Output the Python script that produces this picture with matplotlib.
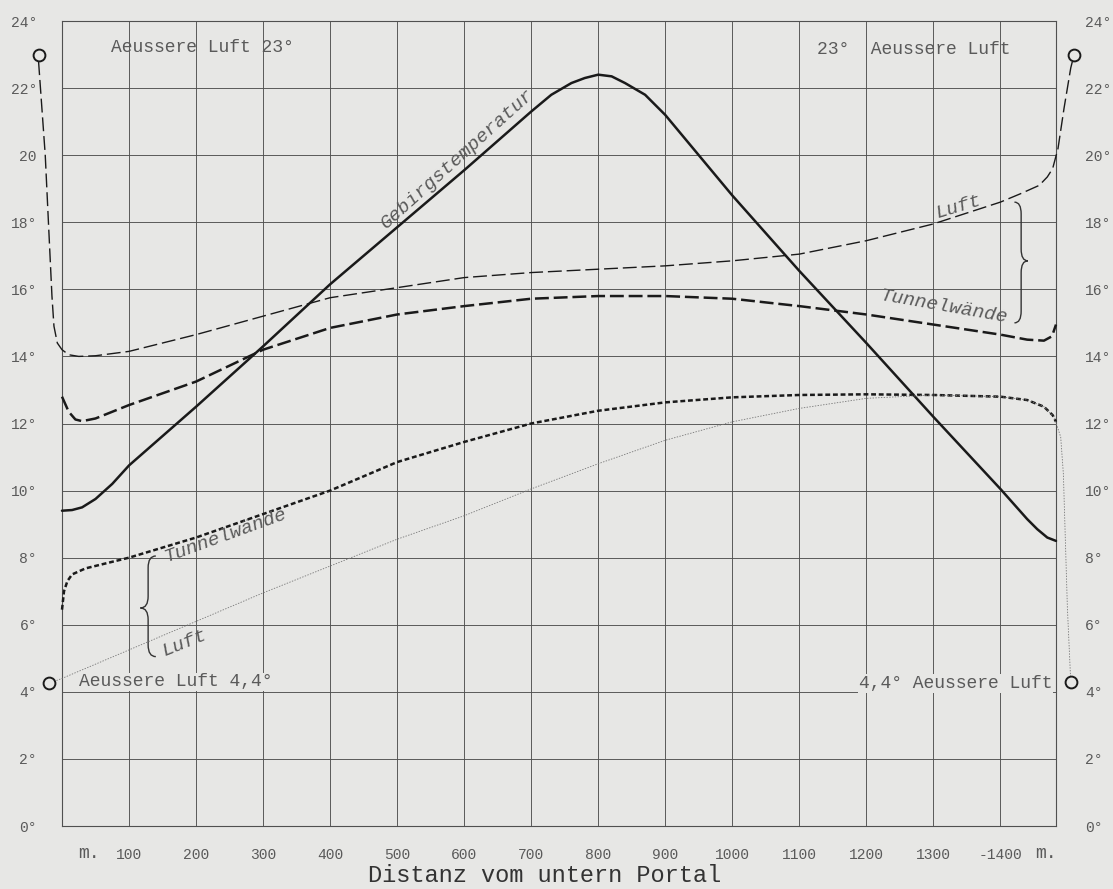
import matplotlib.pyplot as plt
from matplotlib.path import Path
from matplotlib.patches import PathPatch

plt.rcParams['lines.scale_dashes'] = False
plt.rcParams['font.family'] = ['Liberation Mono', 'DejaVu Sans Mono']

# Gebirgstemperatur (ausgezogen)
geb_x = [0, 15, 30, 50, 75, 100, 200, 300, 400, 500, 600, 700, 730, 760, 780, 800,
         820, 840, 870, 900, 1000, 1100, 1200, 1300, 1400, 1420, 1440, 1455, 1470, 1483]
geb_y = [9.4, 9.42, 9.5, 9.75, 10.2, 10.75, 12.5, 14.3, 16.15, 17.85, 19.55, 21.3, 21.8, 22.15, 22.3, 22.4,
         22.35, 22.15, 21.8, 21.2, 18.8, 16.55, 14.4, 12.2, 10.05, 9.6, 9.15, 8.85, 8.6, 8.5]

# Luft, Aeussere Luft 23 Grad (oben)
luft_o_x = [-35, -25, -15, -12, -7, 0, 10, 25, 50, 100, 200, 300, 400, 500, 600, 700, 800, 900,
            1000, 1100, 1200, 1300, 1400, 1430, 1458, 1470, 1478, 1486, 1495, 1505, 1510]
luft_o_y = [22.8, 20.0, 15.8, 14.9, 14.4, 14.2, 14.05, 14.0, 14.02, 14.15, 14.65, 15.2, 15.75, 16.05, 16.35, 16.5, 16.6, 16.7,
            16.85, 17.05, 17.45, 17.95, 18.6, 18.85, 19.1, 19.35, 19.6, 20.2, 21.4, 22.6, 23.0]

# Tunnelwaende (oben)
wand_o_x = [0, 10, 20, 30, 50, 100, 200, 300, 400, 500, 600, 700, 800, 900, 1000, 1100, 1200, 1300,
            1400, 1440, 1465, 1477, 1483]
wand_o_y = [12.8, 12.35, 12.12, 12.07, 12.15, 12.55, 13.25, 14.2, 14.85, 15.25, 15.5, 15.72, 15.8, 15.8, 15.72, 15.5, 15.25, 14.95,
            14.65, 14.5, 14.47, 14.6, 14.95]

# Tunnelwaende (unten)
wand_u_x = [0, 3, 8, 15, 35, 100, 200, 300, 400, 500, 600, 700, 800, 900, 1000, 1100, 1200, 1300,
            1400, 1440, 1465, 1478, 1483]
wand_u_y = [6.45, 7.0, 7.3, 7.5, 7.68, 8.0, 8.6, 9.3, 10.0, 10.85, 11.45, 12.0, 12.38, 12.63, 12.78, 12.85, 12.87, 12.85,
            12.8, 12.7, 12.5, 12.25, 12.05]

# Luft, Aeussere Luft 4,4 Grad (unten)
luft_u_x = [-20, 0, 100, 200, 300, 400, 500, 600, 700, 800, 900, 1000, 1100, 1200, 1300,
            1400, 1440, 1465, 1480, 1490, 1494, 1497, 1500, 1505]
luft_u_y = [4.25, 4.4, 5.25, 6.1, 6.95, 7.75, 8.55, 9.25, 10.05, 10.8, 11.5, 12.05, 12.45, 12.75, 12.85,
            12.8, 12.7, 12.5, 12.2, 11.6, 10.5, 8.5, 6.5, 4.3]

# Messpunkte aussen
kreis_x = [-35, 1510, -20, 1505]
kreis_y = [23.0, 23.0, 4.25, 4.3]

y_links = ['0°', '2°', '4°', '6°', '8°', '10°', '12°', '14°', '16°', '18°', '20', '22°', '24°']
y_rechts = ['0°', '2°', '4°', '6°', '8°', '10°', '12°', '14°', '16°', '18°', '20°', '22°', '24°']
x_ticks = [100, 200, 300, 400, 500, 600, 700, 800, 900, 1000, 1100, 1200, 1300, 1400]
x_labels = ['100', '200', '300', '400', '500', '600', '700', '800', '900', '1000', '1100', '1200', '1300', '-1400']

papier = '#e7e7e5'
tinte = '#1a1a1a'
grau = '#5a5a5a'


def klammer(ax, x0, w, y_top, y_bot, y_tip, r):
    # geschweifte Klammer, w>0 -> Spitze nach rechts
    xm = x0 + w / 2.0
    verts = [(x0, y_top), (xm, y_top), (xm, y_top - r),
             (xm, y_tip + r), (xm, y_tip), (x0 + w, y_tip),
             (xm, y_tip), (xm, y_tip - r),
             (xm, y_bot + r), (xm, y_bot), (x0, y_bot)]
    codes = [Path.MOVETO, Path.CURVE3, Path.CURVE3,
             Path.LINETO, Path.CURVE3, Path.CURVE3,
             Path.CURVE3, Path.CURVE3,
             Path.LINETO, Path.CURVE3, Path.CURVE3]
    ax.add_patch(PathPatch(Path(verts, codes), fill=False, lw=1.0, color='#333333', clip_on=False))


fig = plt.figure(figsize=(11.13, 8.89), dpi=100, facecolor=papier)
ax = fig.add_axes([62 / 1113, 1 - 826 / 889, (1056 - 62) / 1113, (826 - 21) / 889])
ax.set_facecolor(papier)
ax.set_xlim(0, 1483)
ax.set_ylim(0, 24)

ax.set_xticks(x_ticks)
ax.set_xticklabels(x_labels)
ax.set_yticks(range(0, 25, 2))
ax.set_yticklabels(y_links)
ax.grid(True, color='#505050', lw=0.65)
ax.set_axisbelow(True)
for s in ax.spines.values():
    s.set_color('#505050')
    s.set_linewidth(0.8)
ax.tick_params(axis='both', length=0, colors=grau)
ax.tick_params(axis='x', pad=16, labelsize=10.5)
ax.tick_params(axis='y', pad=18, labelsize=10.5)

ax2 = ax.twinx()
ax2.set_ylim(0, 24)
ax2.set_yticks(range(0, 25, 2))
ax2.set_yticklabels(y_rechts)
ax2.tick_params(axis='y', length=0, pad=21, labelsize=10.5, colors=grau)
for s in ax2.spines.values():
    s.set_visible(False)

# Kurven
ax.plot(geb_x, geb_y, color=tinte, lw=1.8, solid_capstyle='round', clip_on=False, zorder=3)
ax.plot(luft_o_x, luft_o_y, color=tinte, lw=1.0, dashes=(10, 3.5), clip_on=False, zorder=3)
ax.plot(wand_o_x, wand_o_y, color=tinte, lw=1.8, dashes=(10, 3.5), clip_on=False, zorder=3)
ax.plot(wand_u_x, wand_u_y, color=tinte, lw=1.8, dashes=(3.5, 2), clip_on=False, zorder=3)
ax.plot(luft_u_x, luft_u_y, color='#777777', lw=0.6, dashes=(1, 1), clip_on=False, zorder=3)
ax.plot(kreis_x, kreis_y, 'o', ms=8.5, mfc=papier, mec=tinte, mew=1.4, clip_on=False, zorder=4)

# Beschriftungen
ax.text(73, 23.2, 'Aeussere Luft 23°', fontsize=13, color=grau, ha='left', va='center')
ax.text(1126, 23.15, '23°  Aeussere Luft', fontsize=13, color=grau, ha='left', va='center')
ax.text(25, 4.3, 'Aeussere Luft 4,4°', fontsize=13, color=grau, ha='left', va='center',
        bbox=dict(facecolor=papier, edgecolor='none', pad=0.5))
ax.text(1478, 4.25, '4,4° Aeussere Luft', fontsize=13, color=grau, ha='right', va='center',
        bbox=dict(facecolor=papier, edgecolor='none', pad=0.5))

ax.text(590, 19.9, 'Gebirgstemperatur', fontsize=14, style='italic', color=grau,
        rotation=42, ha='center', va='center', rotation_mode='anchor')
ax.text(1338, 18.45, 'Luft', fontsize=14, style='italic', color=grau,
        rotation=17, ha='center', va='center', rotation_mode='anchor')
ax.text(1315, 15.47, 'Tunnelwände', fontsize=14, style='italic', color=grau,
        rotation=-10, ha='center', va='center', rotation_mode='anchor')
ax.text(243, 8.65, 'Tunnelwände', fontsize=14, style='italic', color=grau,
        rotation=20, ha='center', va='center', rotation_mode='anchor')
ax.text(183, 5.45, 'Luft', fontsize=14, style='italic', color=grau,
        rotation=22, ha='center', va='center', rotation_mode='anchor')

klammer(ax, 1421, 20, 18.6, 15.0, 16.85, 0.35)
klammer(ax, 140, -23, 8.05, 5.05, 6.5, 0.35)

ax.text(40, -0.034, 'm.', fontsize=13, color=grau, ha='center', va='center',
        transform=ax.get_xaxis_transform())
ax.text(1468, -0.034, 'm.', fontsize=13, color=grau, ha='center', va='center',
        transform=ax.get_xaxis_transform())
fig.text(545 / 1113, 1 - 875 / 889, 'Distanz vom untern Portal', fontsize=17, color='#333333',
         ha='center', va='center')

fig.savefig('out.png', dpi=100, facecolor=papier)
